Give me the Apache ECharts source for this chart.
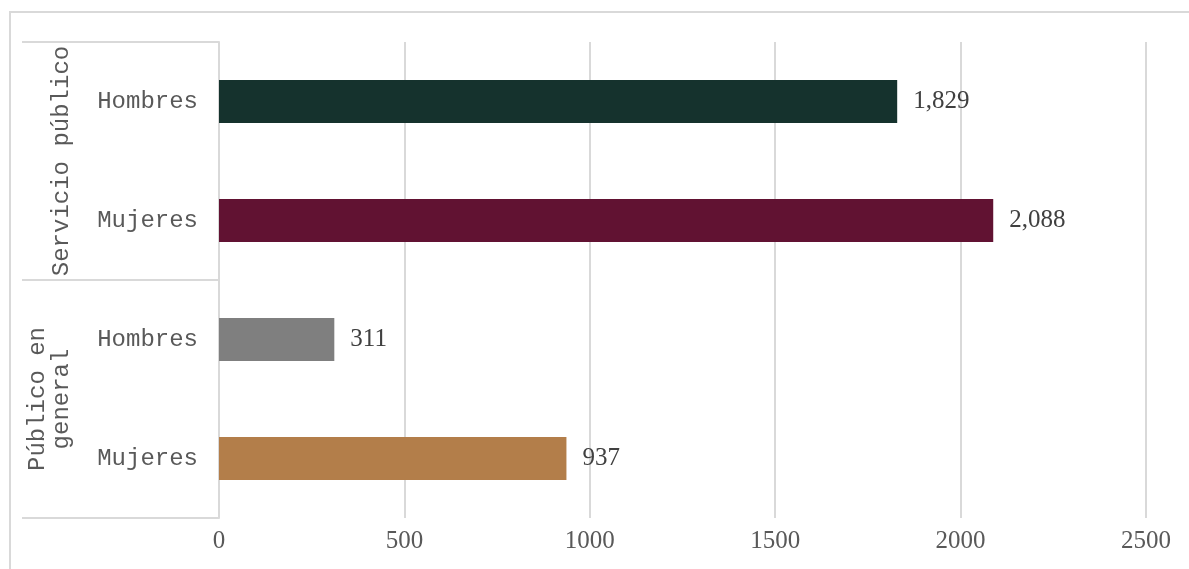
<!DOCTYPE html>
<html><head><meta charset="utf-8">
<script src="https://cdn.jsdelivr.net/npm/echarts@6/dist/echarts.min.js"></script>
<style>
html,body{margin:0;padding:0;background:#fff;overflow:hidden}
#frame{position:absolute;left:9px;top:11px;width:1300px;height:700px;border:2px solid #d9d9d9;box-sizing:border-box}
#c{position:absolute;left:0;top:0;width:1189px;height:569px}
</style></head>
<body><div id="frame"></div><div id="c"></div>
<script>
const categories = ['Hombres', 'Mujeres', 'Hombres', 'Mujeres'];
const groups = ['Servicio público', 'Público en\ngeneral'];
const values = [1829, 2088, 311, 937];
const barColors = ['#15322d', '#611232', '#7f7f7f', '#b37e4a'];
const xTicks = [0, 500, 1000, 1500, 2000, 2500];

const chart = echarts.init(document.getElementById('c'), null, {renderer:'canvas'});
chart.setOption({
  backgroundColor: 'transparent',
  animation: false,
  grid: {left: 219, right: 43, top: 42, bottom: 51, containLabel: false},
  xAxis: {
    type: 'value', min: xTicks[0], max: xTicks[xTicks.length-1], interval: 500,
    axisLine: {show: false}, axisTick: {show: false},
    splitLine: {show: true, lineStyle: {color: '#d9d9d9', width: 2}},
    axisLabel: {color: '#595959', fontFamily: 'Liberation Serif', fontSize: 25, margin: 11,
      formatter: v => String(v)}
  },
  yAxis: [{
    type: 'category', data: categories, inverse: true,
    axisLine: {show: true, lineStyle: {color: '#d9d9d9', width: 2}},
    axisTick: {show: false},
    axisLabel: {color: '#595959', fontFamily: 'Liberation Mono', fontSize: 24, margin: 21, interval: 0}
  }, {
    type: 'category', data: groups, inverse: true, position: 'left', offset: 197,
    axisLine: {show: false},
    axisTick: {show: true, inside: true, length: 197, interval: 0, lineStyle: {color: '#d9d9d9', width: 2}},
    axisLabel: {inside: true, rotate: 90, align: 'center', verticalAlign: 'bottom', margin: 52, interval: 0,
      color: '#595959', fontFamily: 'Liberation Mono', fontSize: 24, lineHeight: 24}
  }],
  series: [{
    type: 'bar', barWidth: 43,
    data: values.map((v, i) => ({value: v, itemStyle: {color: barColors[i]}})),
    label: {show: true, position: 'right', distance: 16, color: '#404040',
      fontFamily: 'Liberation Serif', fontSize: 25,
      formatter: p => p.value.toLocaleString('en-US')}
  }]
});
</script></body></html>
